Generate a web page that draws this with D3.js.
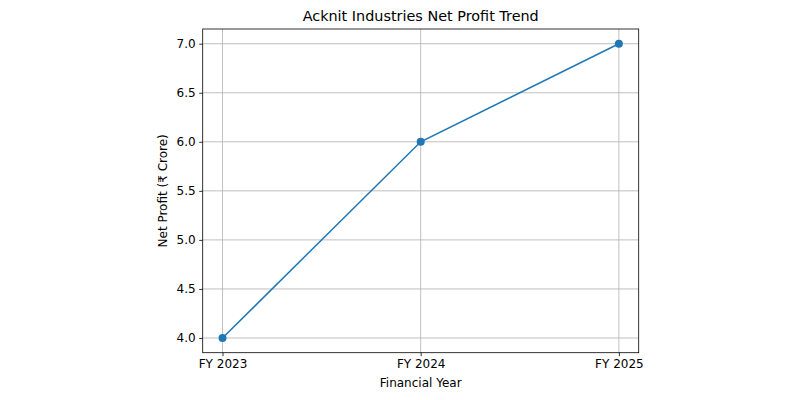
<!DOCTYPE html>
<html><head><meta charset="utf-8">
<script src="https://cdn.jsdelivr.net/npm/d3@7"></script>
<style>body{margin:0;background:#fff}svg{display:block}text{font-family:"DejaVu Sans",sans-serif;fill:#000}</style>
</head><body><svg id="c" width="800" height="400"></svg>
<script>
const categories = ["FY 2023", "FY 2024", "FY 2025"];
const profits = [4.0, 6.0, 7.0];
const yTicks = [4.0, 4.5, 5.0, 5.5, 6.0, 6.5, 7.0];
const title = "Acknit Industries Net Profit Trend";
const xLabel = "Financial Year";
const yLabel = "Net Profit (₹ Crore)";

const svg = d3.select("#c");
const m = {l: 202.7, r: 638.7, t: 29, b: 352.7};
const x = d3.scaleLinear().domain([-0.1, 2.1]).range([m.l, m.r]);
const y = d3.scaleLinear().domain([3.85, 7.15]).range([m.b, m.t]);

// grid
svg.append("g").selectAll("line").data(categories).join("line")
  .attr("x1", (d,i)=>x(i)).attr("x2", (d,i)=>x(i)).attr("y1", m.t).attr("y2", m.b)
  .attr("stroke", "#b0b0b0").attr("stroke-width", 0.8);
svg.append("g").selectAll("line").data(yTicks).join("line")
  .attr("x1", m.l).attr("x2", m.r).attr("y1", d=>y(d)).attr("y2", d=>y(d))
  .attr("stroke", "#b0b0b0").attr("stroke-width", 0.8);

// axes
const xAxis = d3.axisBottom(x).tickValues([0,1,2]).tickFormat(i=>categories[i]).tickSizeOuter(0).tickSize(3.5).tickPadding(3.5);
const yAxis = d3.axisLeft(y).tickValues(yTicks).tickFormat(d3.format(".1f")).tickSizeOuter(0).tickSize(3.5).tickPadding(3.5);
const gx = svg.append("g").attr("transform", `translate(0,${m.b})`).call(xAxis);
const gy = svg.append("g").attr("transform", `translate(${m.l},0)`).call(yAxis);
[gx, gy].forEach(g => {
  g.select(".domain").remove();
  g.selectAll(".tick line").attr("stroke", "#000").attr("stroke-width", 0.8);
  g.selectAll(".tick text").attr("font-size", 12).attr("fill", "#000").attr("font-family", "DejaVu Sans");
});

// frame
svg.append("rect").attr("x", m.l).attr("y", m.t).attr("width", m.r-m.l).attr("height", m.b-m.t)
  .attr("fill", "none").attr("stroke", "#000").attr("stroke-width", 0.8);

// line
const line = d3.line().x((d,i)=>x(i)).y(d=>y(d));
svg.append("path").datum(profits).attr("d", line).attr("fill", "none")
  .attr("stroke", "#1f77b4").attr("stroke-width", 1.5);
svg.append("g").selectAll("circle").data(profits).join("circle")
  .attr("cx", (d,i)=>x(i)).attr("cy", d=>y(d)).attr("r", 4).attr("fill", "#1f77b4");

// labels
svg.append("text").attr("x", (m.l+m.r)/2).attr("y", 21).attr("text-anchor", "middle")
  .attr("font-size", 14.4).text(title);
svg.append("text").attr("x", (m.l+m.r)/2).attr("y", 387).attr("text-anchor", "middle")
  .attr("font-size", 12).text(xLabel);
svg.append("text").attr("transform", `translate(167,${(m.t+m.b)/2}) rotate(-90)`).attr("text-anchor", "middle")
  .attr("font-size", 12).text(yLabel);
</script></body></html>
